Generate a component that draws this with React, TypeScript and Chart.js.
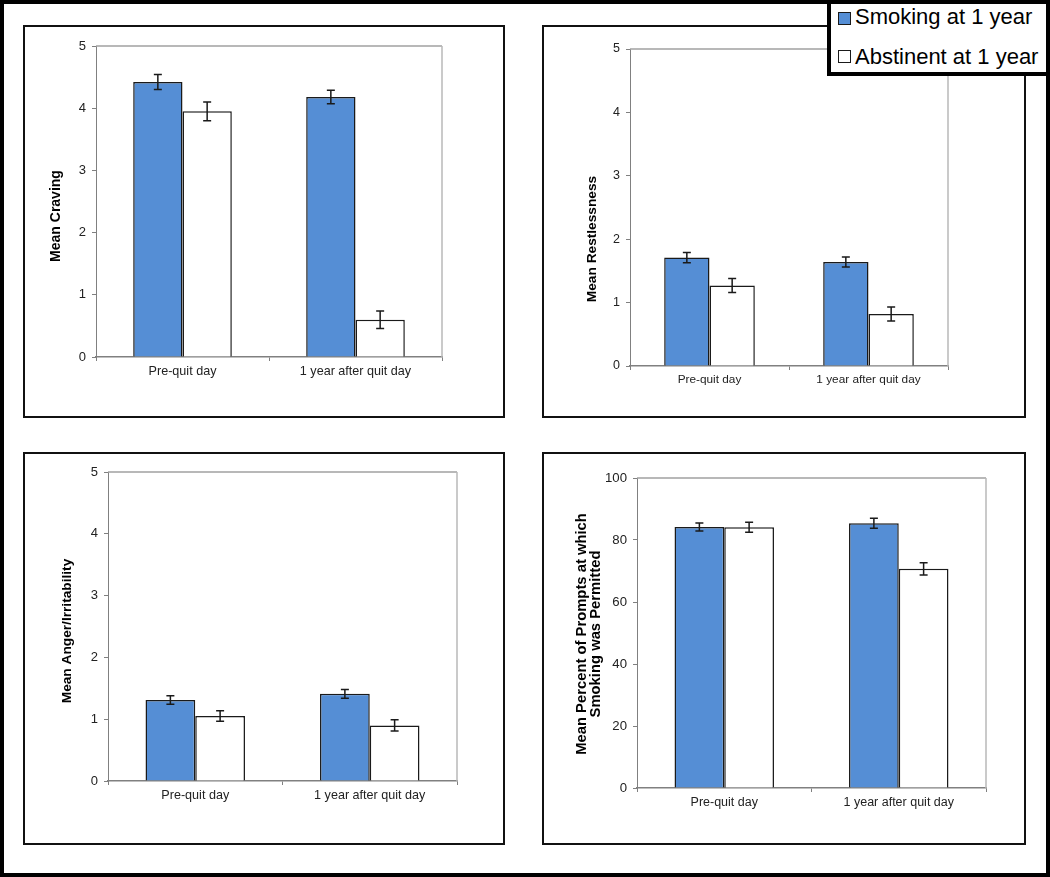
import React, { useEffect, useRef } from "react";
import { Chart, registerables } from "chart.js";

Chart.register(...registerables);

// ---------- data ----------
const categories = ["Pre-quit day", "1 year after quit day"];
const seriesNames = ["Smoking at 1 year", "Abstinent at 1 year"];
const seriesColors = ["#558ed5", "#ffffff"];

const cravingSmoking = [4.42, 4.18];
const cravingAbstinent = [3.95, 0.6];
const cravingSmokingErr = [0.12, 0.11];
const cravingAbstinentErr = [0.15, 0.14];

const restSmoking = [1.71, 1.64];
const restAbstinent = [1.27, 0.82];
const restSmokingErr = [0.08, 0.08];
const restAbstinentErr = [0.11, 0.11];

const angerSmoking = [1.31, 1.41];
const angerAbstinent = [1.05, 0.9];
const angerSmokingErr = [0.07, 0.07];
const angerAbstinentErr = [0.085, 0.09];

const permitSmoking = [84.2, 85.4];
const permitAbstinent = [84.1, 70.7];
const permitSmokingErr = [1.3, 1.6];
const permitAbstinentErr = [1.6, 2.0];

const ratingTicks = { max: 5, step: 1 };
const percentTicks = { max: 100, step: 20 };

const FONT = "'Liberation Sans', Arial, Helvetica, sans-serif";
const BW = 2; // panel border width

type Rect = { l: number; t: number; r: number; b: number };

type PanelProps = {
  box: Rect;
  plot: Rect;
  title: string[];
  titleX: number;
  titleY: number;
  titleSize: number;
  tickSize: number;
  catSize: number;
  values: number[][];
  errors: number[][];
  yMax: number;
  yStep: number;
};

function Panel(p: PanelProps) {
  const ref = useRef<HTMLCanvasElement | null>(null);
  const W = p.box.r - p.box.l - 2 * BW;
  const H = p.box.b - p.box.t - 2 * BW;
  const cx = p.box.l + BW;
  const cy = p.box.t + BW;

  useEffect(() => {
    if (!ref.current) return;
    const pl = p.plot.l - cx;
    const pt = p.plot.t - cy;
    const pr = p.plot.r - cx;
    const pb = p.plot.b - cy;

    const frame = {
      id: "plotFrame",
      beforeDatasetsDraw(chart: any) {
        const { ctx, chartArea } = chart;
        ctx.save();
        ctx.lineWidth = 1.5;
        ctx.strokeStyle = "#a0a0a0";
        ctx.beginPath();
        ctx.moveTo(chartArea.left, chartArea.top);
        ctx.lineTo(chartArea.right, chartArea.top);
        ctx.stroke();
        ctx.strokeStyle = "#b8b8b8";
        ctx.beginPath();
        ctx.moveTo(chartArea.right, chartArea.top);
        ctx.lineTo(chartArea.right, chartArea.bottom);
        ctx.stroke();
        ctx.restore();
      },
    };

    const errorBars = {
      id: "errorBars",
      afterDatasetsDraw(chart: any) {
        const { ctx } = chart;
        const ys = chart.scales.y;
        ctx.save();
        ctx.strokeStyle = "#1a1a1a";
        ctx.lineWidth = 1.5;
        chart.data.datasets.forEach((ds: any, i: number) => {
          const meta = chart.getDatasetMeta(i);
          meta.data.forEach((el: any, j: number) => {
            const v = ds.data[j];
            const e = p.errors[i][j];
            const x = el.x;
            const y1 = ys.getPixelForValue(v + e);
            const y2 = ys.getPixelForValue(v - e);
            const cap = 4;
            ctx.beginPath();
            ctx.moveTo(x, y1);
            ctx.lineTo(x, y2);
            ctx.moveTo(x - cap, y1);
            ctx.lineTo(x + cap, y1);
            ctx.moveTo(x - cap, y2);
            ctx.lineTo(x + cap, y2);
            ctx.stroke();
          });
        });
        ctx.restore();
      },
    };

    const yTitle = {
      id: "yTitle",
      afterDraw(chart: any) {
        const { ctx } = chart;
        ctx.save();
        ctx.translate(p.titleX - cx, p.titleY - cy);
        ctx.rotate(-Math.PI / 2);
        ctx.font = `bold ${p.titleSize}px ${FONT}`;
        ctx.fillStyle = "#000";
        ctx.textAlign = "center";
        ctx.textBaseline = "middle";
        const gap = 14;
        const n = p.title.length;
        p.title.forEach((line, i) => {
          ctx.fillText(line, 0, (i - (n - 1) / 2) * gap);
        });
        ctx.restore();
      },
    };

    const chart = new Chart(ref.current, {
      type: "bar",
      data: {
        labels: categories,
        datasets: seriesNames.map((name, i) => ({
          label: name,
          data: p.values[i],
          backgroundColor: seriesColors[i],
          borderColor: "#1a1a1a",
          borderWidth: 1.5,
          borderSkipped: "start",
          categoryPercentage: 0.57,
          barPercentage: 1.0,
        })),
      },
      options: {
        animation: false,
        responsive: false,
        maintainAspectRatio: false,
        layout: { padding: { left: 0, top: pt, right: W - pr, bottom: 0 } },
        plugins: {
          legend: { display: false },
          tooltip: { enabled: false },
          title: { display: false },
        },
        scales: {
          x: {
            type: "category",
            offset: true,
            grid: {
              display: true,
              offset: true,
              drawOnChartArea: false,
              drawTicks: true,
              tickLength: 4,
              color: "#808080",
              lineWidth: 1,
            },
            border: { display: true, color: "#808080", width: 1.5 },
            ticks: {
              color: "#222",
              font: { family: FONT, size: p.catSize },
              padding: 3,
              maxRotation: 0,
              autoSkip: false,
            },
            afterFit: (s: any) => {
              s.height = H - pb;
            },
          },
          y: {
            min: 0,
            max: p.yMax,
            ticks: {
              stepSize: p.yStep,
              color: "#222",
              font: { family: FONT, size: p.tickSize },
              padding: 6,
            },
            grid: {
              drawOnChartArea: false,
              drawTicks: true,
              tickLength: 4,
              color: "#808080",
            },
            border: { display: true, color: "#808080", width: 1 },
            afterFit: (s: any) => {
              s.width = pl;
            },
          },
        },
      },
      plugins: [frame, errorBars, yTitle],
    } as any);
    return () => chart.destroy();
  }, []);

  return (
    <>
      <div
        style={{
          position: "absolute",
          left: p.box.l,
          top: p.box.t,
          width: p.box.r - p.box.l,
          height: p.box.b - p.box.t,
          border: `${BW}px solid #111`,
          boxSizing: "border-box",
          background: "#fff",
        }}
      />
      <canvas
        ref={ref}
        width={W}
        height={H}
        style={{ position: "absolute", left: cx, top: cy, width: W, height: H }}
      />
    </>
  );
}

export default function App() {
  return (
    <div
      style={{
        position: "absolute",
        left: 0,
        top: 0,
        width: 1050,
        height: 877,
        background: "#fff",
        fontFamily: FONT,
        overflow: "hidden",
      }}
    >
      <Panel
        box={{ l: 23, t: 25, r: 505, b: 418 }}
        plot={{ l: 96, t: 46, r: 442, b: 357 }}
        title={["Mean Craving"]}
        titleX={56}
        titleY={216}
        titleSize={14}
        tickSize={13}
        catSize={12.6}
        values={[cravingSmoking, cravingAbstinent]}
        errors={[cravingSmokingErr, cravingAbstinentErr]}
        yMax={ratingTicks.max}
        yStep={ratingTicks.step}
      />
      <Panel
        box={{ l: 542, t: 25, r: 1026, b: 418 }}
        plot={{ l: 630, t: 49, r: 948, b: 366 }}
        title={["Mean Restlessness"]}
        titleX={592}
        titleY={239}
        titleSize={13.7}
        tickSize={12.5}
        catSize={11.8}
        values={[restSmoking, restAbstinent]}
        errors={[restSmokingErr, restAbstinentErr]}
        yMax={ratingTicks.max}
        yStep={ratingTicks.step}
      />
      <Panel
        box={{ l: 23, t: 452, r: 505, b: 845 }}
        plot={{ l: 108, t: 472, r: 457, b: 781 }}
        title={["Mean Anger/Irritability"]}
        titleX={67}
        titleY={631}
        titleSize={13.7}
        tickSize={13}
        catSize={12.6}
        values={[angerSmoking, angerAbstinent]}
        errors={[angerSmokingErr, angerAbstinentErr]}
        yMax={ratingTicks.max}
        yStep={ratingTicks.step}
      />
      <Panel
        box={{ l: 542, t: 452, r: 1026, b: 845 }}
        plot={{ l: 637, t: 478, r: 986, b: 788 }}
        title={["Mean Percent of Prompts at which", "Smoking was Permitted"]}
        titleX={589}
        titleY={634}
        titleSize={14.8}
        tickSize={13.2}
        catSize={12.5}
        values={[permitSmoking, permitAbstinent]}
        errors={[permitSmokingErr, permitAbstinentErr]}
        yMax={percentTicks.max}
        yStep={percentTicks.step}
      />
      {/* outer frame */}
      <div
        style={{
          position: "absolute",
          left: 0,
          top: 0,
          width: 1050,
          height: 877,
          border: "4px solid #000",
          boxSizing: "border-box",
          pointerEvents: "none",
        }}
      />
      {/* shared legend */}
      <div
        style={{
          position: "absolute",
          left: 827,
          top: 0,
          width: 223,
          height: 76,
          border: "4px solid #000",
          boxSizing: "border-box",
          background: "#fff",
        }}
      >
        {seriesNames.map((name, i) => (
          <React.Fragment key={name}>
            <div
              style={{
                position: "absolute",
                left: 7,
                top: 8 + i * 38,
                width: 13,
                height: 13,
                boxSizing: "border-box",
                border: "1.5px solid #1a1a1a",
                background: seriesColors[i],
              }}
            />
            <div
              style={{
                position: "absolute",
                left: 24,
                top: 2.4 + i * 40,
                fontSize: 22,
                lineHeight: "22px",
                whiteSpace: "nowrap",
                color: "#000",
                fontFamily: FONT,
              }}
            >
              {name}
            </div>
          </React.Fragment>
        ))}
      </div>
    </div>
  );
}
